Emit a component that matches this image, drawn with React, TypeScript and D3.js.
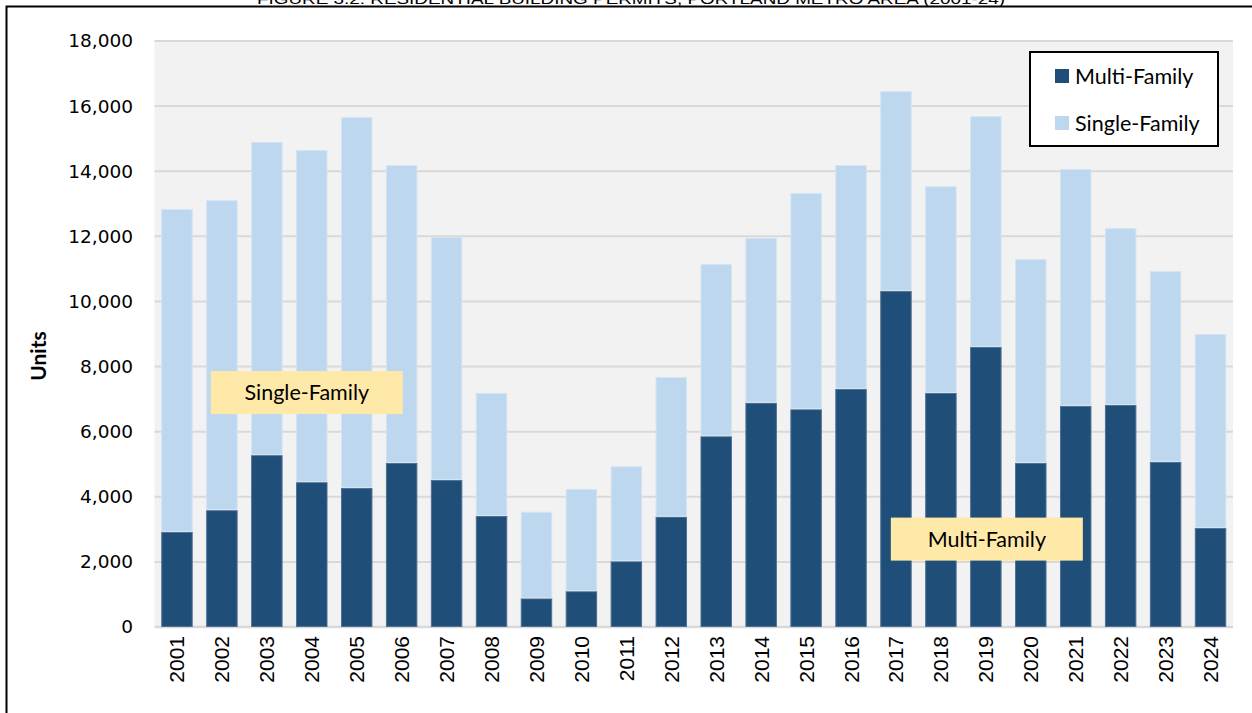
import React, { useEffect, useRef } from "react";
import * as d3 from "d3";

// chart data
const years = [
  "2001", "2002", "2003", "2004", "2005", "2006", "2007", "2008",
  "2009", "2010", "2011", "2012", "2013", "2014", "2015", "2016",
  "2017", "2018", "2019", "2020", "2021", "2022", "2023", "2024",
];
const multiFamily = [
  2920, 3590, 5280, 4450, 4270, 5040, 4520, 3410,
  880, 1100, 2020, 3390, 5860, 6890, 6690, 7310,
  10320, 7190, 8600, 5040, 6790, 6820, 5070, 3040,
];
const singleFamily = [
  9920, 9520, 9620, 10200, 11390, 9150, 7460, 3780,
  2660, 3140, 2920, 4290, 5290, 5060, 6640, 6880,
  6140, 6350, 7090, 6260, 7280, 5430, 5860, 5960,
];
const yTicks = [0, 2000, 4000, 6000, 8000, 10000, 12000, 14000, 16000, 18000];
const seriesNames = ["Multi-Family", "Single-Family"];
const title = "FIGURE 3.2: RESIDENTIAL BUILDING PERMITS, PORTLAND METRO AREA (2001-24)";

const W = 1252;
const H = 713;
const DARK = "#1F4E79";
const LIGHT = "#BDD7EE";

const App = () => {
  const ref = useRef<SVGSVGElement>(null);

  useEffect(() => {
    const svg = d3.select(ref.current);
    svg.selectAll("*").remove();

    const margin = { top: 41, right: 19, bottom: 86, left: 154.5 };
    const plotRight = W - margin.right;
    const plotBottom = H - margin.bottom;

    const x = d3.scaleBand().domain(years).range([margin.left, plotRight]).paddingInner(0.3).paddingOuter(0.15);
    const y = d3.scaleLinear().domain([0, 18000]).range([plotBottom, margin.top]);

    // outer frame and the title, which sits mostly above the page edge
    svg.append("text")
      .attr("x", 631).attr("y", 4)
      .attr("text-anchor", "middle")
      .attr("font-family", "Liberation Sans, Arial, sans-serif")
      .attr("font-size", 15.5)
      .attr("textLength", 748)
      .attr("lengthAdjust", "spacingAndGlyphs")
      .text(title);
    svg.append("rect")
      .attr("x", 6.5).attr("y", 6.5)
      .attr("width", W + 20).attr("height", H + 20)
      .attr("fill", "none").attr("stroke", "#000").attr("stroke-width", 2);

    // plot background
    svg.append("rect")
      .attr("x", margin.left).attr("y", margin.top - 1)
      .attr("width", plotRight - margin.left).attr("height", plotBottom - margin.top + 1)
      .attr("fill", "#F2F2F2");

    // gridlines
    svg.append("g")
      .selectAll("line")
      .data(yTicks)
      .join("line")
      .attr("x1", margin.left).attr("x2", plotRight)
      .attr("y1", (d) => y(d)).attr("y2", (d) => y(d))
      .attr("stroke", "#D9D9D9").attr("stroke-width", (d) => (d === 0 ? 2.5 : 2));

    // y tick labels
    svg.append("g")
      .selectAll("text")
      .data(yTicks)
      .join("text")
      .attr("x", 133).attr("y", (d) => y(d))
      .attr("dy", "0.35em")
      .attr("text-anchor", "end")
      .attr("font-family", "DejaVu Sans, sans-serif")
      .attr("font-size", 18.5)
      .attr("fill", "#000")
      .text((d) => d3.format(",")(d));

    svg.append("text")
      .attr("transform", `translate(46, ${(margin.top + plotBottom) / 2 + 22}) rotate(-90)`)
      .attr("text-anchor", "middle")
      .attr("font-family", "Lato, sans-serif")
      .attr("font-weight", "bold")
      .attr("font-size", 21)
      .text("Units");

    // stacked bars
    const rows = years.map((yr, i) => ({ year: yr, multi: multiFamily[i], single: singleFamily[i] }));
    const stack = d3.stack<any>().keys(["multi", "single"])(rows);
    const colors = [DARK, LIGHT];
    const strokes = ["#4F7193", "#D3E4F3"];

    svg.append("g")
      .selectAll("g")
      .data(stack)
      .join("g")
      .attr("fill", (_, i) => colors[i])
      .attr("stroke", (_, i) => strokes[i])
      .attr("stroke-width", 1)
      .selectAll("rect")
      .data((d) => d)
      .join("rect")
      .attr("x", (d) => x(d.data.year)! + 0.5)
      .attr("y", (d) => y(d[1]) + 0.5)
      .attr("width", x.bandwidth() - 1)
      .attr("height", (d) => Math.max(0, y(d[0]) - y(d[1]) - 1));

    // x labels
    svg.append("g")
      .selectAll("text")
      .data(years)
      .join("text")
      .attr("transform", (d) => `translate(${x(d)! + x.bandwidth() / 2 + 7.5}, 636) rotate(-90)`)
      .attr("text-anchor", "end")
      .attr("font-family", "Liberation Sans, Arial, sans-serif")
      .attr("font-size", 21)
      .text((d) => d);

    // callout labels inside the bars
    const callouts = [
      { text: seriesNames[1], year: "2004", value: 7200, dx: -5 },
      { text: seriesNames[0], year: "2019", value: 2700, dx: 1 },
    ];
    const callG = svg.append("g");
    callouts.forEach((c) => {
      const cx = x(c.year)! + x.bandwidth() / 2 + c.dx;
      const cy = y(c.value);
      callG.append("rect")
        .attr("x", cx - 96).attr("y", cy - 21.5)
        .attr("width", 192).attr("height", 43)
        .attr("fill", "#FFE9A9");
      callG.append("text")
        .attr("x", cx).attr("y", cy)
        .attr("dy", "0.35em")
        .attr("text-anchor", "middle")
        .attr("font-family", "Lato, sans-serif")
        .attr("font-size", 21.5)
        .text(c.text);
    });

    // legend
    const lg = svg.append("g").attr("transform", "translate(1030, 52)");
    lg.append("rect")
      .attr("width", 188).attr("height", 94)
      .attr("fill", "#fff").attr("stroke", "#000").attr("stroke-width", 2);
    seriesNames.forEach((name, i) => {
      lg.append("rect")
        .attr("x", 25).attr("y", 17 + i * 47)
        .attr("width", 14).attr("height", 14)
        .attr("fill", colors[i]);
      lg.append("text")
        .attr("x", 45).attr("y", 24 + i * 47)
        .attr("dy", "0.35em")
        .attr("font-family", "Lato, sans-serif")
        .attr("font-size", 21.5)
        .text(name);
    });
  }, []);

  return (
    <div>
      <svg ref={ref} width={W} height={H} style={{ position: "absolute", left: 0, top: 0, background: "#fff" }} />
    </div>
  );
};

export default App;
